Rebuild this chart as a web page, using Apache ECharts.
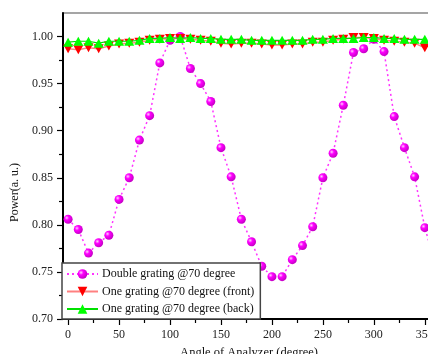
<!DOCTYPE html>
<html><head><meta charset="utf-8">
<script src="https://cdn.jsdelivr.net/npm/echarts@6/dist/echarts.min.js"></script>
<style>html,body{margin:0;padding:0;background:#fff}#c{width:428px;height:354px}</style>
</head><body><div id="c"></div>
<script>
const angles = [0,10,20,30,40,50,60,70,80,90,100,110,120,130,140,150,160,170,180,190,200,210,220,230,240,250,260,270,280,290,300,310,320,330,340,350,360];
const doubleGrating = [0.806,0.795,0.770,0.781,0.789,0.827,0.850,0.890,0.916,0.972,0.996,1.000,0.966,0.950,0.931,0.882,0.851,0.806,0.782,0.756,0.745,0.745,0.763,0.778,0.798,0.850,0.876,0.927,0.983,0.987,0.997,0.984,0.915,0.882,0.851,0.797,0.760];
const oneFront = [0.987,0.986,0.988,0.987,0.990,0.992,0.993,0.994,0.996,0.997,0.998,0.998,0.997,0.996,0.995,0.993,0.992,0.993,0.993,0.992,0.991,0.991,0.992,0.992,0.994,0.994,0.996,0.997,0.999,0.999,0.998,0.996,0.995,0.994,0.993,0.988];
const oneBack = [0.994,0.995,0.995,0.993,0.995,0.995,0.995,0.996,0.998,0.998,0.999,0.998,0.999,0.998,0.998,0.997,0.997,0.997,0.996,0.996,0.996,0.996,0.996,0.996,0.997,0.997,0.998,0.998,0.998,0.999,0.999,0.998,0.998,0.997,0.997,0.997];
const xTicks = [0,50,100,150,200,250,300,350];
const xMinor = [25,75,125,175,225,275,325];
const yTicks = [0.70,0.75,0.80,0.85,0.90,0.95,1.00];
const yMinor = [0.725,0.775,0.825,0.875,0.925,0.975];
const names = ['Double grating @70 degree','One grating @70 degree (front)','One grating @70 degree (back)'];

const pairs = (ys) => ys.map((v,i) => [angles[i], v]);
const font = '"Liberation Serif","DejaVu Serif",serif';
const chart = echarts.init(document.getElementById('c'), null, {renderer:'canvas'});
const xBase = {type:'value', min:-5, max:360, gridIndex:0, position:'bottom'};
const yBase = {type:'value', min:0.70, max:1.025, gridIndex:0, position:'left'};
chart.setOption({
  animation:false,
  backgroundColor:'#fff',
  textStyle:{fontFamily:font},
  grid:{left:63, top:13, right:-7, bottom:35, containLabel:false, outerBoundsMode:'none',
        show:true, borderColor:'#888', borderWidth:1.5, backgroundColor:'transparent'},
  xAxis:[
    Object.assign({}, xBase, {
      name:'Angle of Analyzer (degree)', nameLocation:'middle', nameGap:24,
      nameTextStyle:{fontFamily:font, fontSize:12.5, color:'#111'},
      axisLine:{show:true, onZero:false, lineStyle:{color:'#000', width:2}},
      axisTick:{show:true, length:6, lineStyle:{color:'#000', width:1.2}, customValues:xTicks},
      axisLabel:{fontFamily:font, fontSize:12, color:'#222', margin:10, customValues:xTicks, hideOverlap:false},
      splitLine:{show:false}
    }),
    Object.assign({}, xBase, {
      axisLine:{show:false, onZero:false},
      axisTick:{show:true, length:4, lineStyle:{color:'#000', width:1.2}, customValues:xMinor},
      axisLabel:{show:false}, splitLine:{show:false}
    })
  ],
  yAxis:[
    Object.assign({}, yBase, {
      axisLine:{show:true, onZero:false, lineStyle:{color:'#000', width:2}},
      axisTick:{show:true, length:6, lineStyle:{color:'#000', width:1.2}, customValues:yTicks},
      axisLabel:{fontFamily:font, fontSize:12, color:'#222', margin:10, customValues:yTicks, formatter:(v)=>v.toFixed(2)},
      splitLine:{show:false}
    }),
    Object.assign({}, yBase, {
      axisLine:{show:false, onZero:false},
      axisTick:{show:true, length:4, lineStyle:{color:'#000', width:1.2}, customValues:yMinor},
      axisLabel:{show:false}, splitLine:{show:false}
    })
  ],
  graphic:[{type:'text', left:9, top:163, rotation:Math.PI/2, originX:0, originY:0,
    style:{text:'Power(a. u.)', font:'12px '+font, fill:'#111'}}],
  legend:{
    orient:'vertical', left:62, top:263, padding:[5,6,4,4], itemGap:5.5,
    itemWidth:31, itemHeight:12, backgroundColor:'#fff', borderColor:'#444', borderWidth:1.5,
    textStyle:{fontFamily:font, fontSize:12, color:'#111', padding:[0,0,0,-1]},
    data:names
  },
  series:[
    {name:names[0], type:'line', xAxisIndex:0, yAxisIndex:0, data:pairs(doubleGrating),
     symbol:'circle', symbolSize:9, z:3,
     itemStyle:{color:new echarts.graphic.RadialGradient(0.35,0.35,0.7,[{offset:0,color:'#ffd0ff'},{offset:0.35,color:'#ff00ff'},{offset:1,color:'#c000c0'}])},
     lineStyle:{color:'#ff33ff', width:1.5, type:[2,3]}},
    {name:names[1], type:'line', xAxisIndex:0, yAxisIndex:0, data:pairs(oneFront),
     symbol:'triangle', symbolRotate:180, symbolSize:[10,9], z:4,
     itemStyle:{color:'#ff0000'}, lineStyle:{color:'#ff8080', width:1.5}},
    {name:names[2], type:'line', xAxisIndex:0, yAxisIndex:0, data:pairs(oneBack),
     symbol:'triangle', symbolSize:[10,9], z:5,
     itemStyle:{color:'#00ff00'}, lineStyle:{color:'#00e000', width:1.2}}
  ]
});
</script></body></html>
